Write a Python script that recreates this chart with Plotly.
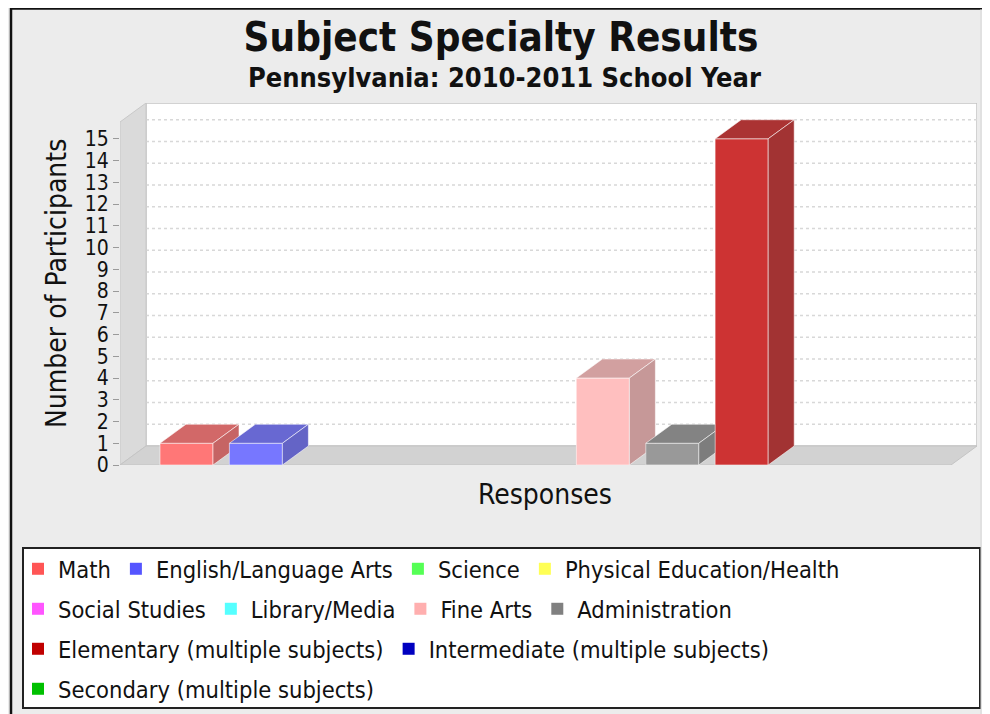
import plotly.graph_objects as go

# ---------------- data ----------------
series = [
    "Math", "English/Language Arts", "Science", "Physical Education/Health",
    "Social Studies", "Library/Media", "Fine Arts", "Administration",
    "Elementary (multiple subjects)", "Intermediate (multiple subjects)",
    "Secondary (multiple subjects)",
]
values = [1, 1, 0, 0, 0, 0, 4, 1, 15, 0, 0]
y_ticks = list(range(0, 16))
colors = ["#FF5555", "#5555FF", "#55FF55", "#FFFF55", "#FF55FF", "#55FFFF",
          "#FFAFAF", "#808080", "#C00000", "#0000C0", "#00C000"]
legend_rows = [1, 1, 1, 1, 2, 2, 2, 2, 3, 3, 4]

title = "Subject Specialty Results"
subtitle = "Pennsylvania: 2010-2011 School Year"
y_title = "Number of Participants"
x_title = "Responses"

# ---------------- layout geometry ----------------
FONT = "DejaVu Sans Condensed, DejaVu Sans, sans-serif"
OFF = 8                      # page body margin of the browser
W, H = 990 - OFF, 714 - OFF  # figure size
# reference-window pixel positions of the plot box
P_LEFT, P_RIGHT, P_TOP, P_BOTTOM = 120, 977, 103, 465
L, R = P_LEFT - OFF, W - (P_RIGHT - OFF)
T, B = P_TOP - OFF, H - (P_BOTTOM - OFF)
PW, PH = W - L - R, H - T - B
PX_X = 69.4          # pixels per category slot
PX_Y = 21.75         # pixels per participant
X0 = 186.5           # window pixel of first bar centre
xL = (P_LEFT - X0) / PX_X
xR = (P_RIGHT - X0) / PX_X
ytop = PH / PX_Y
DX = 26 / PX_X
DY = 19 / PX_Y
BW = 53 / PX_X
ALPHA = 0.8


def blend(hexc, k=1.0, a=ALPHA):
    h = hexc.lstrip("#")
    rgb = [int(h[i:i + 2], 16) for i in (0, 2, 4)]
    out = [round(c * k * a + 255 * (1 - a)) for c in rgb]
    return "rgb(%d,%d,%d)" % tuple(out)


def px_x(p):  # window pixel -> paper x
    return (p - P_LEFT) / PW


def px_y(p):  # window pixel -> paper y
    return (P_BOTTOM - p) / PH


fig = go.Figure()

# Bars (front faces, also used for the legend)
for i, (name, v, c, row) in enumerate(zip(series, values, colors, legend_rows)):
    fig.add_trace(go.Bar(
        x=[i], y=[v], width=BW, name=name,
        marker=dict(color=c, line=dict(width=0)),
        legend="legend" if row == 1 else "legend%d" % row,
        hoverinfo="skip",
    ))

# 3D faces, drawn in series order
edge = dict(color="rgba(255,255,255,0.55)", width=1)
for i, (v, c) in enumerate(zip(values, colors)):
    if v <= 0:
        continue
    a, b = i - BW / 2, i + BW / 2
    faces = [
        ([a, b, b, a, a], [0, 0, v, v, 0], blend(c)),
        ([a, b, b + DX, a + DX, a], [v, v, v + DY, v + DY, v], blend(c, 0.78)),
        ([b, b + DX, b + DX, b, b], [0, DY, v + DY, v, 0], blend(c, 0.72)),
    ]
    for fx, fy, fc in faces:
        fig.add_trace(go.Scatter(
            x=fx, y=fy, mode="lines", fill="toself", fillcolor=fc,
            line=edge, showlegend=False, hoverinfo="skip",
        ))

shapes = []
# back wall
shapes.append(dict(type="rect", xref="x", yref="y", x0=xL + DX, x1=xR, y0=DY, y1=ytop,
                   fillcolor="white", line=dict(color="#c4c4c4", width=1.5), layer="below"))
# gridlines on the back wall
for v in y_ticks[1:]:
    shapes.append(dict(type="line", xref="x", yref="y", x0=xL + DX, x1=xR, y0=v + DY, y1=v + DY,
                       line=dict(color="#d8d8d8", width=1.5, dash="dot"), layer="below"))
# left wall
shapes.append(dict(type="path", xref="x", yref="y",
                   path="M %f,%f L %f,%f L %f,%f L %f,%f Z" % (
                       xL, 0, xL + DX, DY, xL + DX, ytop, xL, ytop - DY),
                   fillcolor="#dadada", line=dict(color="#c8c8c8", width=1), layer="below"))
# floor
shapes.append(dict(type="path", xref="x", yref="y",
                   path="M %f,%f L %f,%f L %f,%f L %f,%f Z" % (
                       xL, 0, xR - DX, 0, xR, DY, xL + DX, DY),
                   fillcolor="#d2d2d2", line=dict(color="#c4c4c4", width=1), layer="below"))
# outer frame
shapes.append(dict(type="line", xref="paper", yref="paper", x0=px_x(11), x1=px_x(11),
                   y0=px_y(8), y1=px_y(716), line=dict(color="#111", width=2.5)))
shapes.append(dict(type="line", xref="paper", yref="paper", x0=px_x(10), x1=px_x(992),
                   y0=px_y(8.5), y1=px_y(8.5), line=dict(color="#111", width=2.5)))
shapes.append(dict(type="line", xref="paper", yref="paper", x0=px_x(981), x1=px_x(981),
                   y0=px_y(9), y1=px_y(716), line=dict(color="#d6d6d6", width=1)))
# legend box
shapes.append(dict(type="rect", xref="paper", yref="paper", x0=px_x(23), x1=px_x(980),
                   y0=px_y(708), y1=px_y(548), fillcolor="white",
                   line=dict(color="#222", width=2), layer="below"))

annotations = [
    dict(text="<b>%s</b>" % subtitle, xref="paper", yref="paper", x=px_x(504), y=px_y(77),
         showarrow=False, font=dict(size=27, family=FONT, color="#111"),
         xanchor="center", yanchor="middle"),
    dict(text=y_title, xref="paper", yref="paper", x=px_x(56), y=px_y(284), textangle=-90,
         showarrow=False, font=dict(size=28, family=FONT, color="#111"),
         xanchor="center", yanchor="middle"),
    dict(text=x_title, xref="paper", yref="paper", x=px_x(545), y=px_y(495),
         showarrow=False, font=dict(size=28, family=FONT, color="#111"),
         xanchor="center", yanchor="middle"),
]

row_y = {1: 569, 2: 609, 3: 649, 4: 689}
legends = {}
for r, py in row_y.items():
    key = "legend" if r == 1 else "legend%d" % r
    legends[key] = dict(
        orientation="h", xref="container", yref="container",
        x=(18 - OFF) / W, xanchor="left", y=1 - (py - OFF) / H, yanchor="middle",
        bgcolor="rgba(0,0,0,0)", borderwidth=0,
        font=dict(size=23.5, family=FONT, color="#111"),
    )

fig.update_layout(
    width=W, height=H,
    margin=dict(l=L, r=R, t=T, b=B, autoexpand=False),
    paper_bgcolor="#ececec", plot_bgcolor="#ececec",
    barmode="overlay",
    title=dict(text="<b>%s</b>" % title, xref="container", yref="container",
               x=(501 - OFF) / W, y=1 - (37 - OFF) / H, xanchor="center", yanchor="middle",
               font=dict(size=40, family=FONT, color="#111")),
    xaxis=dict(range=[xL, xR], visible=False, fixedrange=True),
    yaxis=dict(range=[0, ytop], tickvals=y_ticks, ticks="outside", ticklen=6,
               tickcolor="#9a9a9a", tickfont=dict(size=21, family=FONT, color="#111"),
               showgrid=False, zeroline=False, showline=False, fixedrange=True),
    shapes=shapes, annotations=annotations,
    **legends,
)

fig.write_html("out.html")
